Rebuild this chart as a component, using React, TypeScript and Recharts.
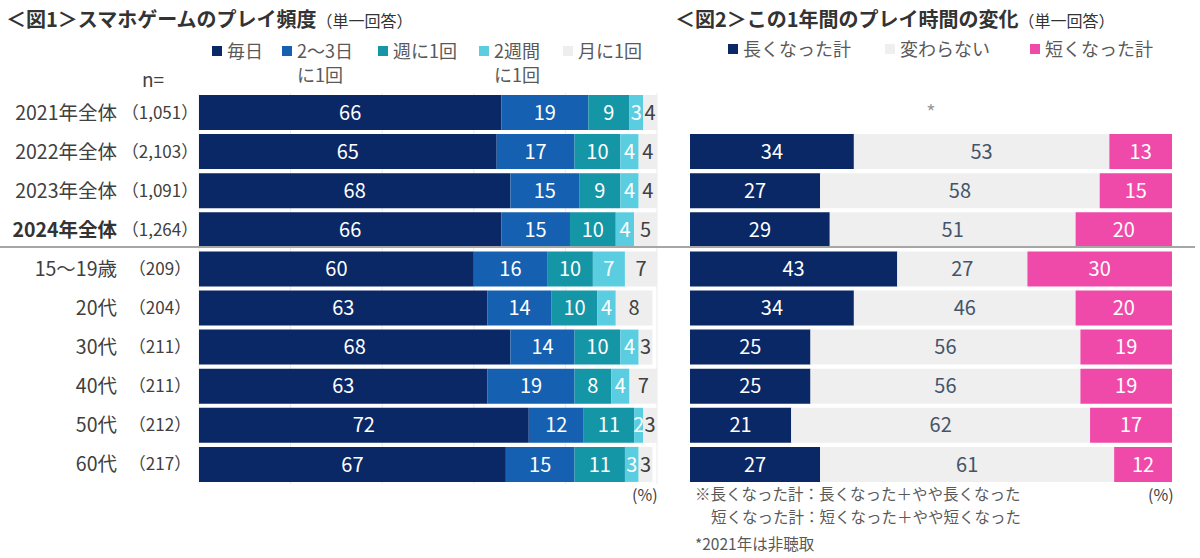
import { BarChart, Bar, XAxis, YAxis, CartesianGrid, LabelList } from 'recharts';

// カテゴリと回答者数
const categories = ['2021年全体', '2022年全体', '2023年全体', '2024年全体', '15～19歳', '20代', '30代', '40代', '50代', '60代'];
const sampleSizes = ['1,051', '2,103', '1,091', '1,264', '209', '204', '211', '211', '212', '217'];

// 図1 プレイ頻度
const freqNames = ['毎日', '2～3日\nに1回', '週に1回', '2週間\nに1回', '月に1回'];
const daily = [66, 65, 68, 66, 60, 63, 68, 63, 72, 67];
const twoThreeDays = [19, 17, 15, 15, 16, 14, 14, 19, 12, 15];
const weekly = [9, 10, 9, 10, 10, 10, 10, 8, 11, 11];
const biweekly = [3, 4, 4, 4, 7, 4, 4, 4, 2, 3];
const monthly = [4, 4, 4, 5, 7, 8, 3, 7, 3, 3];

// 図2 プレイ時間の変化（2021年は非聴取）
const changeNames = ['長くなった計', '変わらない', '短くなった計'];
const longer = [null, 34, 27, 29, 43, 34, 25, 25, 21, 27];
const unchanged = [null, 53, 58, 51, 27, 46, 56, 56, 62, 61];
const shorter = [null, 13, 15, 20, 30, 20, 19, 19, 17, 12];
const notAsked = [100, null, null, null, null, null, null, null, null, null];

const freqColors = ['#0a2865', '#1560b0', '#1596a6', '#5bcde0', '#eeeeee'];
const changeColors = ['#0a2865', '#efefef', '#ef4aa9'];

const FONT = '"Noto Sans CJK JP", "Noto Sans", sans-serif';
const TEXT = '#404040';

const freqData = categories.map((name, i) => ({
  name,
  daily: daily[i],
  twoThree: twoThreeDays[i],
  weekly: weekly[i],
  biweekly: biweekly[i],
  monthly: monthly[i],
}));

const changeData = categories.map((name, i) => ({
  name,
  longer: longer[i],
  unchanged: unchanged[i],
  shorter: shorter[i],
  notAsked: notAsked[i],
}));

const hideNull = (v: any) => (v == null ? '' : v);

function CategoryTick({ y, payload }: any) {
  const idx = categories.indexOf(payload.value);
  const bold = payload.value === '2024年全体';
  return (
    <g>
      <text x={117} y={y} dy={7} textAnchor="end" fontSize={19.5} fill={bold ? '#333' : TEXT} fontWeight={bold ? 700 : 400}>
        {payload.value}
      </text>
      <text x={160} y={y} dy={6} textAnchor="middle" fontSize={17} fill={TEXT}>
        （{sampleSizes[idx]}）
      </text>
    </g>
  );
}

function LegendItem({ label, color, x, y }: { label: string; color: string; x: number; y: number }) {
  const lines = label.split('\n');
  return (
    <div style={{ position: 'absolute', left: x, top: y, display: 'flex', alignItems: 'flex-start' }}>
      <div style={{ width: 10, height: 10, background: color, marginTop: 8, marginRight: 5 }} />
      <div style={{ fontSize: 18, lineHeight: '24px', color: '#595959', whiteSpace: 'nowrap' }}>
        {lines.map((l, i) => (
          <div key={i}>{l}</div>
        ))}
      </div>
    </div>
  );
}

const freqLegendX = [212, 282, 378, 479, 563];
const changeLegendX = [728, 885, 1030];

export default function App() {
  const freqKeys = ['daily', 'twoThree', 'weekly', 'biweekly', 'monthly'];
  return (
    <div style={{ position: 'absolute', left: 0, top: 0, width: 1200, height: 558, background: '#fff', fontFamily: FONT, color: TEXT }}>
      {/* タイトル */}
      <div style={{ position: 'absolute', left: 6, top: 4, whiteSpace: 'nowrap', color: '#333' }}>
        <span style={{ fontSize: 20, fontWeight: 700 }}>＜図1＞スマホゲームのプレイ頻度</span>
        <span style={{ fontSize: 16 }}>（単一回答）</span>
      </div>
      <div style={{ position: 'absolute', left: 675, top: 4, whiteSpace: 'nowrap', color: '#333' }}>
        <span style={{ fontSize: 20, fontWeight: 700 }}>＜図2＞この1年間のプレイ時間の変化</span>
        <span style={{ fontSize: 16 }}>（単一回答）</span>
      </div>

      {freqNames.map((n, i) => (
        <LegendItem key={n} label={n} color={freqColors[i]} x={freqLegendX[i]} y={38} />
      ))}
      {changeNames.map((n, i) => (
        <LegendItem key={n} label={n} color={changeColors[i]} x={changeLegendX[i]} y={36} />
      ))}
      <div style={{ position: 'absolute', left: 142, top: 65, fontSize: 19 }}>n=</div>

      <div style={{ position: 'absolute', left: 0, top: 0 }}>
        <BarChart width={670} height={500} data={freqData} layout="vertical" margin={{ top: 93, right: 13, bottom: 16, left: 0 }}>
          <CartesianGrid horizontal={false} stroke="#ebebeb" />
          <XAxis type="number" domain={[0, 100]} ticks={[0, 20, 40, 60, 80, 100]} allowDataOverflow hide />
          <YAxis type="category" dataKey="name" width={199} axisLine={false} tickLine={false} interval={0} tick={<CategoryTick />} />
          {freqKeys.map((k, i) => (
            <Bar key={k} dataKey={k} stackId="a" fill={freqColors[i]} barSize={35} isAnimationActive={false}>
              <LabelList dataKey={k} position="center" fill={i === 4 ? '#404040' : '#fff'} fontSize={20} />
            </Bar>
          ))}
        </BarChart>
      </div>

      <div style={{ position: 'absolute', left: 680, top: 0 }}>
        <BarChart width={500} height={500} data={changeData} layout="vertical" margin={{ top: 93, right: 8, bottom: 16, left: 10 }}>
          <XAxis type="number" domain={[0, 100]} hide />
          <YAxis type="category" dataKey="name" hide />
          <Bar dataKey="longer" stackId="b" fill={changeColors[0]} barSize={35} isAnimationActive={false}>
            <LabelList dataKey="longer" position="center" fill="#fff" fontSize={20} formatter={hideNull} />
          </Bar>
          <Bar dataKey="unchanged" stackId="b" fill={changeColors[1]} barSize={35} isAnimationActive={false}>
            <LabelList dataKey="unchanged" position="center" fill="#44546a" fontSize={20} formatter={hideNull} />
          </Bar>
          <Bar dataKey="shorter" stackId="b" fill={changeColors[2]} barSize={35} isAnimationActive={false}>
            <LabelList dataKey="shorter" position="center" fill="#fff" fontSize={20} formatter={hideNull} />
          </Bar>
          <Bar dataKey="notAsked" stackId="b" fill="transparent" barSize={35} isAnimationActive={false}>
            <LabelList dataKey="notAsked" position="center" fill="#9a9a9a" fontSize={20} formatter={(v: any) => (v == null ? '' : '*')} />
          </Bar>
        </BarChart>
      </div>

      {/* 区切り線 */}
      <div style={{ position: 'absolute', left: 0, top: 246, width: 1195, height: 2, background: '#a6a6a6' }} />

      <div style={{ position: 'absolute', left: 632, top: 482, fontSize: 16 }}>(%)</div>
      <div style={{ position: 'absolute', left: 1148, top: 482, fontSize: 16 }}>(%)</div>
      <div style={{ position: 'absolute', left: 695, top: 482, fontSize: 15.5, lineHeight: '23px', color: '#595959', whiteSpace: 'nowrap' }}>
        <div>※長くなった計：長くなった＋やや長くなった</div>
        <div style={{ paddingLeft: 16 }}>短くなった計：短くなった＋やや短くなった</div>
        <div style={{ marginTop: 4 }}>*2021年は非聴取</div>
      </div>
    </div>
  );
}
